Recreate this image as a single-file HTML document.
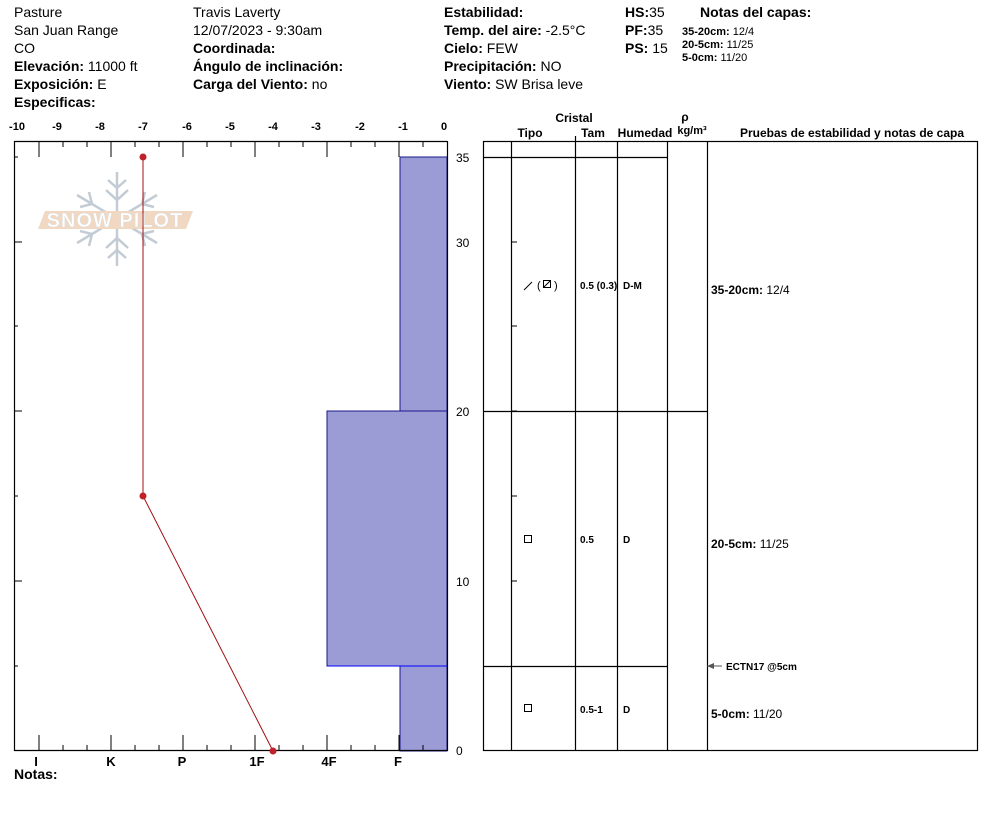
<!DOCTYPE html>
<html><head><meta charset="utf-8"><style>
body{margin:0;background:#fff;}
svg{display:block;font-family:"Liberation Sans",Arial,sans-serif;}
.b{font-weight:bold;}
</style></head><body>
<svg width="994" height="840" viewBox="0 0 994 840" xmlns="http://www.w3.org/2000/svg">
<g font-size="14" fill="#000">
<text x="14" y="17">Pasture</text>
<text x="14" y="35">San Juan Range</text>
<text x="14" y="53">CO</text>
<text x="14" y="71"><tspan class="b">Elevación:</tspan> 11000 ft</text>
<text x="14" y="89"><tspan class="b">Exposición:</tspan> E</text>
<text x="14" y="107" class="b">Especificas:</text>
<text x="193" y="17">Travis Laverty</text>
<text x="193" y="35">12/07/2023 - 9:30am</text>
<text x="193" y="53" class="b">Coordinada:</text>
<text x="193" y="71" class="b">Ángulo de inclinación:</text>
<text x="193" y="89"><tspan class="b">Carga del Viento:</tspan> no</text>
<text x="444" y="17" class="b">Estabilidad:</text>
<text x="444" y="35"><tspan class="b">Temp. del aire:</tspan> -2.5°C</text>
<text x="444" y="53"><tspan class="b">Cielo:</tspan> FEW</text>
<text x="444" y="71"><tspan class="b">Precipitación:</tspan> NO</text>
<text x="444" y="89"><tspan class="b">Viento:</tspan>  SW Brisa leve</text>
<text x="625" y="17"><tspan class="b">HS:</tspan>35</text>
<text x="625" y="35"><tspan class="b">PF:</tspan>35</text>
<text x="625" y="53"><tspan class="b">PS:</tspan> 15</text>
<text x="700" y="17" class="b">Notas del capas:</text>
</g>
<g font-size="11">
<text x="682" y="35"><tspan class="b">35-20cm:</tspan> 12/4</text>
<text x="682" y="48"><tspan class="b">20-5cm:</tspan>  11/25</text>
<text x="682" y="61"><tspan class="b">5-0cm:</tspan>  11/20</text>
</g>
<!-- watermark -->
<g stroke="#c3ccd4" stroke-width="2.5" fill="none">
<line x1="117" y1="172" x2="117" y2="266"/>
<line x1="77" y1="195" x2="157" y2="243"/>
<line x1="77" y1="243" x2="157" y2="195"/>
<path d="M108 180l9 8 9-8M108 258l9-8 9 8M106 190l11 10 11-10M106 248l11-10 11 10"/>
<path d="M80 207l12-3-3-12M154 207l-12-3 3-12M80 231l12 3-3 12M154 231l-12 3 3 12"/>
</g>
<polygon points="45,211 193,211 186,229 38,229" fill="#f1d8c3"/>
<text x="115" y="227" font-size="20" font-weight="bold" fill="#fff" stroke="#dcdcdc" stroke-width="0.5" text-anchor="middle" letter-spacing="1">SNOW PILOT</text>
<!-- bars -->
<rect x="400" y="157" width="47" height="254" fill="#9b9bd5" stroke="#1a1a8a" stroke-width="1"/>
<rect x="327" y="411" width="120" height="255" fill="#9b9bd5" stroke="#1a1a8a" stroke-width="1"/>
<rect x="400" y="666" width="47" height="85" fill="#9b9bd5" stroke="#1a1a8a" stroke-width="1"/>
<line x1="327" y1="666" x2="447" y2="666" stroke="#0000ff"/>
<!-- left frame -->
<g stroke="#000" stroke-width="1.2" fill="none">
<line x1="14.5" y1="141" x2="14.5" y2="751"/>
<line x1="14" y1="141.5" x2="447" y2="141.5"/>
<line x1="14" y1="750.5" x2="447" y2="750.5"/>
<line x1="447.5" y1="141" x2="447.5" y2="751"/>
</g>
<g stroke="#000" stroke-width="1">
<path d="M39 141v16M111 141v16M183 141v16M255 141v16M327 141v16M399 141v16M63 141v6M87 141v6M135 141v6M159 141v6M207 141v6M231 141v6M279 141v6M303 141v6M351 141v6M375 141v6M423 141v6"/>
<path d="M39 751v-16M111 751v-16M183 751v-16M255 751v-16M327 751v-16M399 751v-16M63 751v-6M87 751v-6M135 751v-6M159 751v-6M207 751v-6M231 751v-6M279 751v-6M303 751v-6M351 751v-6M375 751v-6M423 751v-6"/>
<path d="M14 157h4M14 242h8M14 326h4M14 411h8M14 496h4M14 581h8M14 666h4"/>
<path d="M511 242h6M511 326h6M511 411h6M511 496h6M511 581h6"/>
</g>
<g font-size="11" font-weight="bold" text-anchor="middle">
<text x="17" y="130">-10</text><text x="57" y="130">-9</text><text x="100" y="130">-8</text><text x="143" y="130">-7</text><text x="187" y="130">-6</text><text x="230" y="130">-5</text><text x="273" y="130">-4</text><text x="316" y="130">-3</text><text x="360" y="130">-2</text><text x="403" y="130">-1</text><text x="444" y="130">0</text>
</g>
<g font-size="13" font-weight="bold" text-anchor="middle">
<text x="36" y="766">I</text><text x="111" y="766">K</text><text x="182" y="766">P</text><text x="257" y="766">1F</text><text x="329" y="766">4F</text><text x="398" y="766">F</text>
</g>
<text x="14" y="779" font-size="14" font-weight="bold">Notas:</text>
<g font-size="12" fill="#000">
<text x="456" y="162">35</text><text x="456" y="247">30</text><text x="456" y="416">20</text><text x="456" y="586">10</text><text x="456" y="755">0</text>
</g>
<!-- temp profile -->
<polyline points="143,157 143,496 273,751" fill="none" stroke="#a01010" stroke-width="1"/>
<circle cx="143" cy="157" r="3.5" fill="#c0202a"/>
<circle cx="143" cy="496" r="3.5" fill="#c0202a"/>
<circle cx="273" cy="751" r="3.5" fill="#c0202a"/>
<!-- right table -->
<g stroke="#000" stroke-width="1.2" fill="none">
<rect x="483.5" y="141.5" width="494" height="609"/>
<line x1="511.5" y1="141" x2="511.5" y2="751"/>
<line x1="575.5" y1="141" x2="575.5" y2="751"/>
<line x1="617.5" y1="141" x2="617.5" y2="751"/>
<line x1="667.5" y1="141" x2="667.5" y2="751"/>
<line x1="707.5" y1="141" x2="707.5" y2="751"/>
<line x1="483" y1="157.5" x2="667" y2="157.5"/>
<line x1="483" y1="411.5" x2="707" y2="411.5"/>
<line x1="483" y1="666.5" x2="667" y2="666.5"/>
<line x1="575.5" y1="136" x2="575.5" y2="141"/>
</g>
<line x1="707" y1="666" x2="722" y2="666" stroke="#555" stroke-width="1"/>
<polygon points="707,666 714,663 714,669" fill="#555"/>
<g font-size="12" font-weight="bold" text-anchor="middle">
<text x="574" y="122">Cristal</text>
<text x="530" y="137">Tipo</text>
<text x="593" y="137">Tam</text>
<text x="645" y="137">Humedad</text>
<text x="685" y="121">ρ</text>
<text x="692" y="134" font-size="11">kg/m³</text>
<text x="852" y="137">Pruebas de estabilidad y notas de capa</text>
</g>
<g font-size="10" font-weight="bold">
<text x="580" y="289">0.5 (0.3)</text><text x="623" y="289">D-M</text>
<text x="580" y="543">0.5</text><text x="623" y="543">D</text>
<text x="580" y="713">0.5-1</text><text x="623" y="713">D</text>
<text x="726" y="670">ECTN17 @5cm</text>
</g>
<g font-size="12">
<text x="711" y="294"><tspan font-weight="bold">35-20cm:</tspan> 12/4</text>
<text x="711" y="548"><tspan font-weight="bold">20-5cm:</tspan>  11/25</text>
<text x="711" y="718"><tspan font-weight="bold">5-0cm:</tspan>  11/20</text>
</g>
<line x1="524" y1="290" x2="532" y2="282" stroke="#000" stroke-width="1"/>
<text x="537" y="289" font-size="11">(</text>
<rect x="543.5" y="280.5" width="7" height="7" fill="none" stroke="#000"/>
<line x1="544" y1="287" x2="550" y2="281" stroke="#000"/>
<text x="554" y="289" font-size="11">)</text>
<rect x="524.5" y="535.5" width="7" height="7" fill="none" stroke="#000"/>
<rect x="524.5" y="704.5" width="7" height="7" fill="none" stroke="#000"/>
</svg>
</body></html>
